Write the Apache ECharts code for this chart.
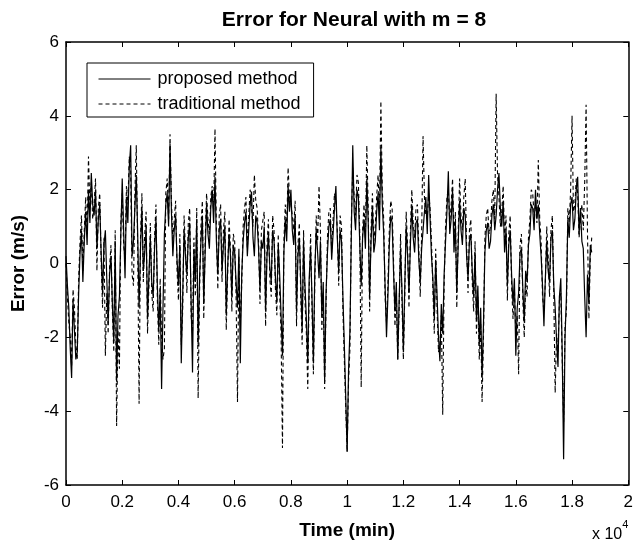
<!DOCTYPE html>
<html>
<head>
<meta charset="utf-8">
<script src="https://cdn.jsdelivr.net/npm/echarts@6/dist/echarts.min.js"></script>
<style>
html,body{margin:0;padding:0;background:#fff;}
#c{width:636px;height:545px;}
</style>
</head>
<body>
<div id="c"></div>
<script>
// Time step between samples (minutes)
const timeStepMin = 50;
// x-axis tick labels (x 10^4 min)
const xTickLabels = ['0','0.2','0.4','0.6','0.8','1','1.2','1.4','1.6','1.8','2'];
const yTickLabels = ['-6','-4','-2','0','2','4','6'];
const seriesNames = ['proposed method', 'traditional method'];

// Proposed method error (m/s)
const proposed = [
  0.2, -0.6, -1.2, -2.3, -3.1, -1.0, -1.8, -2.6, -2.4, -0.8, 0.3, 0.9, -0.5, 0.6, 1.4, 0.5, 2.0, 1.1, 2.45, 1.6,
  1.3, 2.0, 0.4, 1.2, 1.6, 0.3, -0.8, 0.5, 0.9, -0.4, -1.6, -0.3, 0.2, -1.1, -2.1, 0.6, -3.2, -1.4, -0.9, 0.8,
  2.3, 0.9, -0.4, 1.8, 1.1, 2.6, 3.2, 0.2, 0.6, 1.5, 2.4, 0.8, -1.2, 0.4, 1.5, -0.2, 0.3, 1.0, -1.5, -0.3,
  0.7, -0.5, -0.9, 0.4, 1.2, -0.6, -1.8, -0.7, -3.4, -1.2, 0.8, 1.6, 1.9, 1.0, 3.25, 1.4, 0.2, 0.9, 1.3, 0.1,
  -0.6, 0.5, -2.7, -0.9, 0.9, 0.2, -0.3, 0.7, 1.1, -1.0, -2.95, 0.4, -0.5, 1.2, -2.2, -0.4, 0.6, 1.3, -1.1, 0.3,
  1.6, 0.8, 0.4, 1.5, 2.0, 1.1, 2.35, 0.6, -0.3, 0.9, 1.2, -0.2, 0.5, 1.0, -1.4, -0.1, 0.8, 0.2, -0.9, 0.5,
  0.3, -0.5, -1.2, 0.4, -2.7, -0.3, 0.6, 1.1, 1.4, 0.2, 0.9, 1.6, 1.95, 0.7, 0.2, 1.3, 1.1, 0.4, -0.7, 0.6,
  0.4, 1.0, -1.3, 0.2, 0.8, -0.1, -0.5, 0.9, 0.6, -0.4, -1.0, 0.5, -0.3, -1.4, -2.5, 0.3, 1.2, 0.6, 2.1, 1.4,
  2.0, 0.9, 0.5, 1.3, -1.3, 0.2, 0.7, -0.5, -1.8, 0.6, -0.6, -1.5, -2.7, -0.4, 0.4, -0.9, -2.7, -0.2, 0.9, 0.3,
  -0.4, 0.6, -1.4, -0.5, -3.2, -0.8, 0.3, 1.0, 1.2, 0.1, 0.8, 1.5, 2.1, 0.7, -0.2, 0.9, 0.6, -0.9, -2.2, -3.6,
  -5.1, -2.9, -1.8, 0.8, 3.2, 1.4, 0.9, 2.0, 1.8, 0.5, -0.6, 0.7, 1.2, 0.4, 2.3, 1.1, -0.9, 0.6, 1.5, 0.3,
  0.6, 1.4, 1.9, 0.9, 3.15, 1.6, 0.8, -0.6, -2.0, -0.9, 0.5, 1.3, 1.1, -0.2, -1.3, -0.5, -2.6, -1.0, 0.4, -0.7,
  -2.4, -0.6, 1.0, 0.2, -0.8, 0.5, 1.6, 0.7, 0.3, 1.1, 1.2, 0.1, -0.5, 0.4, 0.9, 1.4, 1.8, 0.8, 2.4, 1.2,
  0.2, -0.4, -1.5, 0.1, -0.9, -2.0, -2.65, -1.1, -1.9, -0.3, 0.6, 1.4, 2.5, 0.8, 1.2, 2.0, 0.3, 1.1, -0.8, 0.5,
  1.7, 0.9, 0.5, 1.5, 1.3, 0.2, -0.4, 0.6, 0.8, -0.2, -0.9, 0.3, -1.5, -0.6, -2.2, -1.2, -3.1, -1.6, 0.3, 0.9,
  1.1, 0.4, 0.6, 1.3, 1.6, 0.9, 1.3, 2.0, 2.45, 1.5, 1.0, 1.7, 0.3, 0.9, -0.6, 0.5, 0.9, -0.3, -1.1, -0.4,
  -2.5, -1.2, -0.8, 0.3, 0.4, -0.7, -1.6, -0.2, -0.5, 0.5, 0.8, 1.6, 1.5, 0.9, 2.0, 1.2, 1.6, 0.8, 0.2, -0.6,
  -1.7, -0.4, 0.6, -0.2, -0.5, 0.7, 0.9, -0.6, -1.2, -2.1, -2.8, -0.9, -0.4, -2.4, -5.3, -2.0, -0.9, 1.2, 0.7, 1.6,
  1.8, 0.9, 1.2, 2.0, 2.35, 0.8, 1.5, 0.6, 0.4, -0.9, -2.0, -0.3, -1.1, 0.5, 0.3
];

// Traditional method error (m/s)
const traditional = [
  0.0, -0.9, -1.6, -2.0, -2.8, -0.7, -1.2, -2.2, -2.6, -0.4, 0.6, 1.3, -0.2, 0.9, 1.8, 0.8, 2.9, 1.5, 2.2, 1.2,
  1.6, 2.3, -0.2, 1.5, 1.9, 0.1, -1.2, 0.7, -2.5, -0.8, -1.9, -0.1, 0.5, -1.3, -2.4, 0.9, -4.4, -1.8, -2.85, 1.1,
  1.9, 0.5, 0.1, 2.1, 1.6, 2.9, 2.5, -0.3, -0.6, 1.9, 3.2, 0.4, -3.8, 0.7, 1.9, -0.5, 0.8, 1.4, -1.9, -0.6,
  1.1, -0.8, -1.3, 0.7, 1.6, -1.0, -2.2, -0.4, -2.0, -2.6, -2.3, 1.9, 2.3, 1.2, 3.5, 1.7, 0.6, 1.2, 1.7, -0.2,
  -1.0, 0.8, -2.2, -1.3, 1.3, 0.4, -0.8, 1.1, 1.5, -1.4, -1.9, 0.7, -0.9, 1.5, -3.65, -0.8, 1.0, 1.7, -1.5, 0.6,
  1.9, 1.2, 0.8, 1.8, 2.1, 1.4, 3.65, 0.9, -0.7, 1.3, 1.6, -0.5, 0.9, 1.4, -1.8, -0.3, 1.2, 0.4, -1.3, 0.8,
  0.6, -0.9, -3.75, 0.2, -1.6, -0.6, 1.0, 1.5, 1.8, 0.4, 1.3, 2.0, 1.5, 1.0, 2.4, 1.7, 1.5, 0.6, -1.1, 0.9,
  0.9, 1.4, -1.7, 0.5, 1.2, -0.4, -0.9, 1.3, 0.9, -0.7, -1.4, 0.8, -0.8, -1.9, -5.0, 0.6, 1.6, 0.9, 2.6, 1.8,
  1.6, 1.3, 0.9, 1.7, -1.7, 0.5, 1.1, -0.9, -2.2, 0.9, -1.0, -1.9, -3.4, -0.7, 0.8, -1.2, -3.0, -0.5, 1.3, 0.6,
  2.1, 0.9, -1.8, -0.8, -3.4, -1.1, 0.7, 1.4, 1.5, 0.3, 1.2, 1.9, 1.7, 0.9, -0.6, 1.3, 1.0, -1.3, -2.6, -3.9,
  -5.1, -3.2, -2.3, 1.2, 2.6, 1.8, 1.3, 2.4, 2.2, 0.8, -3.35, 0.9, 1.6, 0.7, 3.2, 1.5, -1.3, 0.9, 1.9, 0.6,
  1.0, 1.8, 2.4, 1.3, 4.4, 2.0, 1.2, -0.9, -1.6, -0.6, 0.9, 1.7, 1.5, 0.1, -1.7, -0.8, -2.6, -1.2, 0.8, -1.0,
  -2.6, -0.9, 1.4, 0.5, -1.2, 0.9, 2.0, 1.1, 0.7, 1.5, 1.6, 0.4, -0.9, 0.8, 3.45, 1.8, 1.3, 1.2, 1.9, 1.5,
  0.6, -0.7, -1.9, 0.4, -1.3, -2.4, -2.2, -1.4, -4.1, -0.6, 1.0, 1.8, 2.0, 1.1, 1.6, 2.3, 0.7, 1.4, -1.2, 0.8,
  2.3, 1.3, 0.9, 1.8, 2.3, 0.5, -0.8, 0.9, 1.2, -0.5, -1.3, 0.6, -1.9, -0.9, -2.6, -1.6, -3.75, -2.0, 0.7, 1.3,
  1.5, 0.8, 1.0, 1.7, 2.0, 1.2, 4.6, 2.4, 1.8, 1.0, 1.4, 2.1, 0.7, 1.3, -1.0, 0.8, 1.3, -0.6, -1.5, -0.7,
  -1.9, -1.4, -3.0, 0.5, 0.8, -1.0, -2.0, -0.5, -0.9, 0.7, 1.2, 2.0, 1.9, 1.3, 1.6, 1.1, 2.8, 1.2, 0.6, -0.9,
  -1.3, -0.5, 1.0, 0.2, -0.9, 0.9, 1.3, -0.8, -3.5, -1.9, -2.4, -1.0, -0.8, -2.6, -4.3, -1.7, -1.3, 1.5, 1.1, 2.0,
  4.0, 1.4, 1.6, 2.3, 1.9, 0.7, 1.2, 1.6, 0.9, 2.2, 4.3, 0.8, -1.5, 0.2, 0.7
];

const toPairs = arr => arr.map((v, i) => [i * timeStepMin, v]);

const FONT = '"Liberation Sans", Arial, sans-serif';
const chart = echarts.init(document.getElementById('c'), null, {renderer: 'canvas'});

const xLabelFmt = v => xTickLabels[Math.round(v / 2000)] ?? '';
const yLabelFmt = v => yTickLabels[Math.round((v + 6) / 2)] ?? '';

const tickCommon = {show: true, inside: true, length: 5, lineStyle: {color: '#000', width: 1}};
const lineCommon = {show: true, onZero: false, lineStyle: {color: '#000', width: 1.5}};

chart.setOption({
  animation: false,
  backgroundColor: '#fff',
  title: {
    text: 'Error for Neural with m = 8',
    left: 349, top: 5, textAlign: 'center',
    textStyle: {fontFamily: FONT, fontSize: 21, fontWeight: 'bold', color: '#000'}
  },
  grid: {left: 66, right: 6, top: 42, bottom: 58, containLabel: false},
  legend: {
    orient: 'vertical',
    left: 87, top: 63,
    padding: [7, 13, 4, 11],
    itemGap: 7,
    itemWidth: 52,
    itemHeight: 14,
    backgroundColor: '#fff',
    borderColor: '#000',
    borderWidth: 1,
    data: seriesNames,
    itemStyle: {opacity: 0},
    lineStyle: {width: 1, color: '#000'},
    textStyle: {fontFamily: FONT, fontSize: 18, color: '#000', lineHeight: 18, padding: [0, 0, 0, 2]}
  },
  xAxis: [{
    type: 'value', min: 0, max: 20000, interval: 2000,
    axisLine: lineCommon, axisTick: tickCommon, splitLine: {show: false},
    axisLabel: {formatter: xLabelFmt, fontFamily: FONT, fontSize: 17, color: '#000', margin: 9},
    name: 'Time (min)', nameLocation: 'middle', nameGap: 36,
    nameTextStyle: {fontFamily: FONT, fontSize: 19, fontWeight: 'bold', color: '#000'}
  }, {
    type: 'value', min: 0, max: 20000, interval: 2000, position: 'top',
    axisLine: lineCommon, axisTick: tickCommon, axisLabel: {show: false}, splitLine: {show: false}
  }],
  yAxis: [{
    type: 'value', min: -6, max: 6, interval: 2,
    axisLine: lineCommon, axisTick: tickCommon, splitLine: {show: false},
    axisLabel: {formatter: yLabelFmt, fontFamily: FONT, fontSize: 17, color: '#000', margin: 7},
    name: 'Error (m/s)', nameLocation: 'middle', nameGap: 38, nameRotate: 90,
    nameTextStyle: {fontFamily: FONT, fontSize: 19, fontWeight: 'bold', color: '#000'}
  }, {
    type: 'value', min: -6, max: 6, interval: 2, position: 'right',
    axisLine: lineCommon, axisTick: tickCommon, axisLabel: {show: false}, splitLine: {show: false}
  }],
  graphic: [{
    type: 'text', left: 592, top: 519,
    style: {
      text: '{b|x 10}{s|4}',
      rich: {
        b: {fontFamily: FONT, fontSize: 16, fill: '#000', padding: [8, 0, 0, 0]},
        s: {fontFamily: FONT, fontSize: 11, fill: '#000', verticalAlign: 'top'}
      }
    }
  }],
  series: [{
    name: seriesNames[1], type: 'line', data: toPairs(traditional),
    showSymbol: false, symbol: 'none', color: '#000',
    lineStyle: {color: '#000', width: 1.1, type: [4, 3]}, z: 2
  }, {
    name: seriesNames[0], type: 'line', data: toPairs(proposed),
    showSymbol: false, symbol: 'none', color: '#000',
    lineStyle: {color: '#000', width: 1.2, type: 'solid'}, z: 3
  }]
});
</script>
</body>
</html>
